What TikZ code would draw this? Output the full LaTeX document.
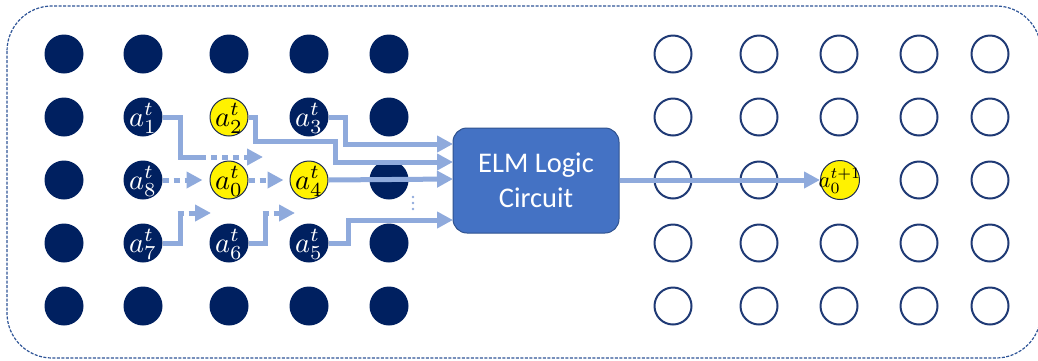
\RequirePackage{fix-cm}
\documentclass[tikz,border=0pt]{standalone}
\usepackage{graphicx}
\usepackage{fontspec}
\setsansfont{Carlito}
\usetikzlibrary{arrows.meta}
\definecolor{navy}{HTML}{002060}
\definecolor{arr}{HTML}{8FAADC}
\definecolor{elm}{HTML}{4472C4}
\definecolor{elmb}{HTML}{2F528F}
\definecolor{ring}{HTML}{1F3A75}
\definecolor{yring}{HTML}{1A2A50}
\definecolor{outer}{HTML}{2F5597}
\newcommand{\lab}[1]{\scalebox{2.85}{$#1$}}
\begin{document}
\begin{tikzpicture}[x=1pt,y=-1pt,
  dot/.style={circle,fill=navy,minimum size=39pt,inner sep=0pt},
  ydot/.style={circle,fill=yellow,draw=yring,line width=1pt,minimum size=38pt,inner sep=0pt},
  nlab/.style={label={[text=white,inner sep=0pt,yshift=-1.5pt]center:\lab{#1}}},
  ylab/.style={label={[text=black,inner sep=0pt,yshift=-1.5pt]center:\lab{#1}}},
  hollow/.style={circle,draw=ring,line width=2pt,fill=white,minimum size=37pt,inner sep=0pt},
  conn/.style={draw=arr,line width=5pt},
  tip/.style={-{Triangle[length=16pt,width=16pt]}},
  dots/.style={dash pattern=on 6pt off 5pt},
  smalldot/.style={circle,fill=arr,minimum size=2.6pt,inner sep=0pt}]
\useasboundingbox (0,0) rectangle (1038,360);
\clip (0,0) rectangle (1038,360);
\draw[outer,line width=1.2pt,dash pattern=on 3pt off 1.5pt,rounded corners=45pt] (7,6) rectangle (1041,358);
% left grid border
\foreach \x/\c in {64/1,143/2,229/3,309/4,389/5} {
  \node[dot] (T\c) at (\x,54) {};
  \node[dot] (B\c) at (\x,306) {};
}
\foreach \y/\r in {117/2,180/3,243/4} {
  \node[dot] (W\r) at (64,\y) {};
  \node[dot] (E\r) at (389,\y) {};
}
\node[dot,nlab={a_1^t}] (a1) at (143,117) {};
\node[ydot,ylab={a_2^t}] (a2) at (229,117) {};
\node[dot,nlab={a_3^t}] (a3) at (309,117) {};
\node[dot,nlab={a_8^t}] (a8) at (143,180) {};
\node[ydot,ylab={a_0^t}] (a0) at (229,180) {};
\node[ydot,ylab={a_4^t}] (a4) at (309,180) {};
\node[dot,nlab={a_7^t}] (a7) at (143,243) {};
\node[dot,nlab={a_6^t}] (a6) at (229,243) {};
\node[dot,nlab={a_5^t}] (a5) at (309,243) {};
% right grid
\foreach \x/\c in {673/1,759/2,839/3,919/4,990/5} {
  \foreach \y/\r in {54/1,117/2,180/3,243/4,306/5} {
    \ifnum\c=3 \ifnum\r=3 \else \node[hollow] (R\r\c) at (\x,\y) {}; \fi
    \else \node[hollow] (R\r\c) at (\x,\y) {}; \fi
  }
}
\node[ydot,minimum size=39pt,label={[text=black,inner sep=0pt,yshift=-1pt]center:\scalebox{2.25}{$a_0^{t+1}$}}] (nxt) at (840,180) {};
% ELM box
\node[draw=elmb,line width=1pt,fill=elm,rounded corners=14pt,minimum width=166pt,minimum height=105pt,
  text=white,font=\sffamily\fontsize{28.5}{35}\selectfont,align=center] (elm) at (536,180.5) {ELM Logic\\Circuit};
% entry points on the box
\coordinate (i1) at (453,144);
\coordinate (i2) at (453,162);
\coordinate (i3) at (453,179);
\coordinate (i4) at (453,220);
\coordinate (p1) at (263,157);
\coordinate (p7) at (211,213);
\coordinate (p6) at (295,213);
% arrows
\draw[conn] (a1.east) -- (180,117) -- (180,157) -- (200,157);
\draw[conn,dots,tip] (200,157) -- (p1);
\draw[conn,dots,tip] (a8.east) -- ([xshift=-7pt]a0.west);
\draw[conn,dots,tip] (a0.east) -- ([xshift=-6pt]a4.west);
\draw[conn] (a7.east) -- (180,243) -- (180,210.5);
\draw[conn,dots,tip] (177.5,213) -- (p7);
\draw[conn] (a6.east) -- (265,243) -- (265,210.5);
\draw[conn,dots,tip] (262.5,213) -- (p6);
\draw[conn,tip] (a3.east) -- (345,117) -- (345,144) -- (i1);
\draw[conn,tip] (a2.east) -- (255,117) -- (255,141) -- (335,141) -- (335,162) -- (i2);
\draw[conn,tip] (a4.east) -- (i3);
\draw[conn,tip] (a5.east) -- (348,243) -- (348,220) -- (i4);
\node[smalldot] (v1) at (413,197) {};
\node[smalldot] (v2) at (413,203) {};
\node[smalldot] (v3) at (413,209) {};
\draw[conn,tip] (elm.east |- nxt) -- (nxt.west);
\end{tikzpicture}
\end{document}
